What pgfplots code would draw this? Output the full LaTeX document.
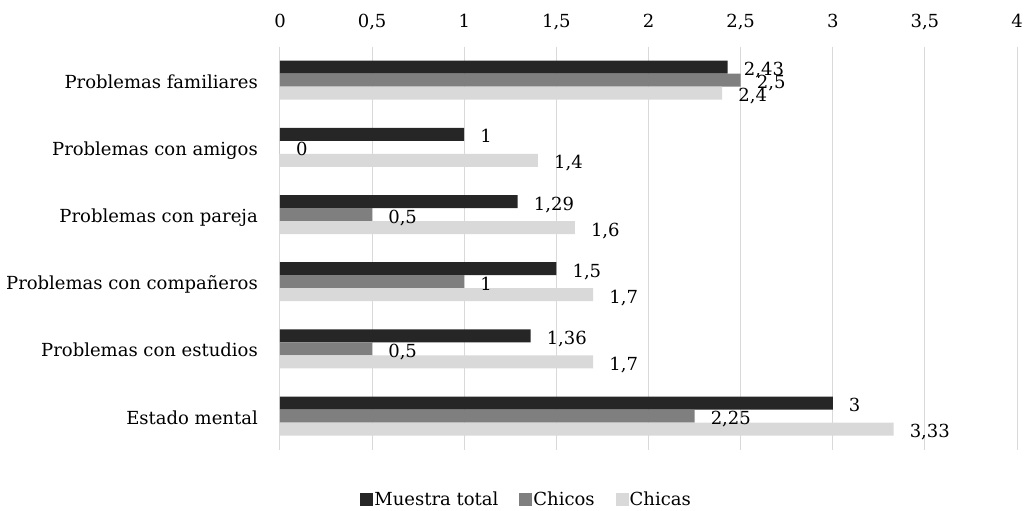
\documentclass[border=0pt]{standalone}
\usepackage{pgfplots}
\pgfplotsset{compat=1.18}
\usepackage{fontspec}
\setmainfont{DejaVu Serif}
\definecolor{cDark}{HTML}{262626}
\definecolor{cMid}{HTML}{7F7F7F}
\definecolor{cLight}{HTML}{D9D9D9}
\definecolor{cGrid}{HTML}{D9D9D9}
\begin{document}
\begin{tikzpicture}
\useasboundingbox (-280pt,-61.3pt) rectangle (753pt,449.7pt);
\begin{axis}[
  at={(0,0)}, anchor=south west,
  scale only axis, width=737pt, height=403.2pt,
  xbar, bar width=13pt,
  xmin=0, xmax=4, xtick={0,0.5,...,4},
  ymin=-0.5, ymax=5.5, y dir=reverse,
  ytick={0,1,2,3,4,5},
  yticklabels={Problemas familiares,Problemas con amigos,Problemas con pareja,Problemas con compañeros,Problemas con estudios,Estado mental},
  axis line style={draw=none},
  major tick length=0pt,
  xmajorgrids, major grid style={cGrid, line width=1pt},
  xticklabel pos=top,
  /pgf/number format/use comma,
  /pgf/number format/assume math mode=true,
  tick label style={font=\fontsize{18}{21}\selectfont},
  xticklabel style={anchor=base, inner sep=0pt, yshift=19pt},
  yticklabel style={anchor=base east, inner sep=0pt, xshift=-22pt, yshift=-8pt},
  nodes near coords,
  nodes near coords style={font=\fontsize{18}{21}\selectfont, anchor=base west, inner sep=0pt, xshift=16pt, yshift=-8.5pt, text=black, /pgf/number format/use comma},
  legend style={draw=none, at={(0.334,-0.124)}, anchor=center, legend columns=-1, font=\fontsize{18}{21}\selectfont,
    nodes={inner sep=1pt},
    /tikz/every even column/.append style={column sep=20pt}},
  legend image code/.code={\fill[#1] (0pt,-6.5pt) rectangle (13pt,6.5pt);},
]
\addplot[fill=cDark, draw=none, bar shift=13pt] coordinates {(2.43,0) (1,1) (1.29,2) (1.5,3) (1.36,4) (3,5)};
\addplot[fill=cMid, draw=none, bar shift=0pt] coordinates {(2.5,0) (0,1) (0.5,2) (1,3) (0.5,4) (2.25,5)};
\addplot[fill=cLight, draw=none, bar shift=-13pt] coordinates {(2.4,0) (1.4,1) (1.6,2) (1.7,3) (1.7,4) (3.33,5)};
\legend{Muestra total, Chicos, Chicas}
\end{axis}
\end{tikzpicture}
\end{document}
